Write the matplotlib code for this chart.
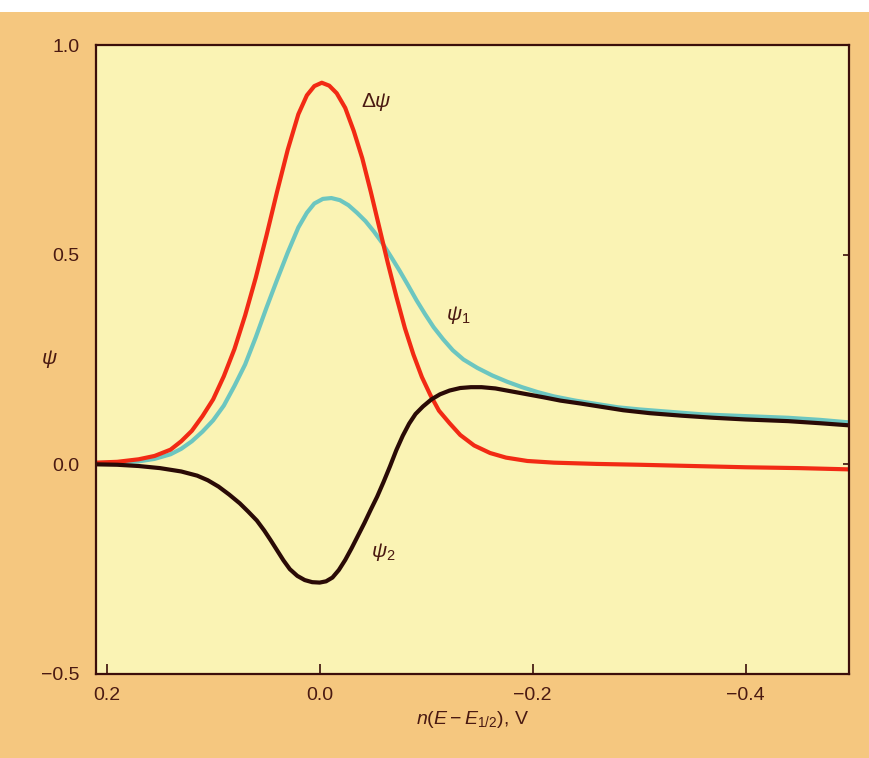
import numpy as np
import matplotlib.pyplot as plt
from matplotlib.patches import Rectangle

plt.rcParams['font.family'] = ['Liberation Sans', 'DejaVu Sans']
plt.rcParams['mathtext.fontset'] = 'custom'
plt.rcParams['mathtext.rm'] = 'Liberation Sans'
plt.rcParams['mathtext.it'] = 'Liberation Sans:italic'

# values
x_delta = [0.21, 0.19, 0.17, 0.155, 0.14, 0.13, 0.12, 0.11, 0.10, 0.09, 0.08, 0.07, 0.06,
           0.05, 0.04, 0.03, 0.02, 0.012, 0.005, -0.002, -0.009, -0.016, -0.024, -0.032,
           -0.040, -0.048, -0.056, -0.064, -0.072, -0.080, -0.088, -0.096, -0.104, -0.112,
           -0.122, -0.132, -0.145, -0.160, -0.175, -0.195, -0.22, -0.26, -0.30, -0.35,
           -0.40, -0.45, -0.497]
delta_psi = [0.004, 0.006, 0.012, 0.020, 0.035, 0.055, 0.080, 0.115, 0.155, 0.210, 0.275,
             0.355, 0.445, 0.545, 0.650, 0.750, 0.835, 0.880, 0.902, 0.910, 0.903, 0.885,
             0.850, 0.795, 0.730, 0.650, 0.565, 0.480, 0.400, 0.325, 0.262, 0.208, 0.165,
             0.128, 0.098, 0.070, 0.045, 0.027, 0.016, 0.008, 0.004, 0.001, -0.001,
             -0.004, -0.007, -0.009, -0.012]

x_psi1 = [0.21, 0.19, 0.17, 0.155, 0.14, 0.13, 0.12, 0.11, 0.10, 0.09, 0.08, 0.07, 0.06,
          0.05, 0.04, 0.03, 0.02, 0.012, 0.005, -0.003, -0.011, -0.019, -0.027, -0.035,
          -0.043, -0.051, -0.059, -0.067, -0.075, -0.083, -0.091, -0.099, -0.107, -0.116,
          -0.125, -0.135, -0.148, -0.162, -0.176, -0.190, -0.205, -0.220, -0.240, -0.26,
          -0.28, -0.30, -0.33, -0.36, -0.40, -0.44, -0.47, -0.497]
psi1 = [0.003, 0.004, 0.007, 0.013, 0.024, 0.037, 0.055, 0.078, 0.105, 0.140, 0.187,
        0.238, 0.303, 0.373, 0.440, 0.505, 0.565, 0.600, 0.622, 0.633, 0.635, 0.630,
        0.618, 0.600, 0.580, 0.555, 0.527, 0.495, 0.462, 0.427, 0.391, 0.358, 0.327,
        0.298, 0.272, 0.250, 0.230, 0.212, 0.197, 0.184, 0.172, 0.162, 0.152, 0.144,
        0.136, 0.131, 0.125, 0.119, 0.115, 0.111, 0.106, 0.100]

x_psi2 = [0.21, 0.19, 0.17, 0.15, 0.13, 0.115, 0.105, 0.095, 0.085, 0.075, 0.067, 0.059,
          0.052, 0.046, 0.040, 0.034, 0.028, 0.021, 0.014, 0.007, 0.0, -0.006, -0.012,
          -0.018, -0.024, -0.030, -0.036, -0.042, -0.048, -0.054, -0.060, -0.066, -0.072,
          -0.078, -0.084, -0.090, -0.097, -0.105, -0.113, -0.122, -0.132, -0.142, -0.152,
          -0.165, -0.180, -0.195, -0.210, -0.226, -0.245, -0.265, -0.285, -0.31, -0.34,
          -0.37, -0.40, -0.44, -0.47, -0.497]
psi2 = [0.0, -0.001, -0.004, -0.009, -0.017, -0.027, -0.038, -0.053, -0.072, -0.093,
        -0.113, -0.134, -0.158, -0.181, -0.205, -0.229, -0.250, -0.266, -0.276, -0.281,
        -0.282, -0.279, -0.270, -0.252, -0.228, -0.200, -0.170, -0.140, -0.108, -0.077,
        -0.042, -0.005, 0.034, 0.068, 0.097, 0.120, 0.138, 0.155, 0.167, 0.176, 0.182,
        0.184, 0.184, 0.181, 0.174, 0.167, 0.160, 0.152, 0.145, 0.137, 0.129, 0.122,
        0.116, 0.111, 0.107, 0.103, 0.098, 0.093]

xticks = [0.2, 0.0, -0.2, -0.4]
yticks = [-0.5, 0.0, 0.5, 1.0]

txt = '#4a1a12'
fig = plt.figure(figsize=(8.7, 7.58), dpi=100, facecolor='white')
fig.patches.append(Rectangle((0, 0), 1, 1 - 12 / 758, transform=fig.transFigure,
                             facecolor='#f5c77f', edgecolor='none', zorder=-1))
ax = fig.add_axes([96 / 870, 1 - 674 / 758, (849 - 96) / 870, (674 - 45) / 758])
ax.set_facecolor('#faf3b4')

ax.plot(x_psi1, psi1, color='#6cc6c0', lw=3, solid_joinstyle='round')
ax.plot(x_delta, delta_psi, color='#f22a14', lw=3, solid_joinstyle='round')
ax.plot(x_psi2, psi2, color='#2a0a06', lw=3, solid_joinstyle='round')

ax.set_xlim(0.21, -0.497)
ax.set_ylim(-0.5, 1.0)
ax.set_xticks(xticks)
ax.set_xticklabels(['0.2', '0.0', '\u22120.2', '\u22120.4'])
ax.set_yticks(yticks)
ax.set_yticklabels(['\u22120.5', '0.0', '0.5', '1.0'])
ax.tick_params(axis='x', direction='in', length=7, width=1.2, color='#3b0e0a',
               labelsize=14, labelcolor=txt, pad=9)
ax.tick_params(axis='y', direction='in', length=4, width=1.2, color='#3b0e0a',
               left=False, right=True, labelleft=True, labelsize=14, labelcolor=txt, pad=12)
for s in ax.spines.values():
    s.set_color('#3b0e0a')
    s.set_linewidth(1.6)

ax.set_xlabel(r'$n(E - E_{1/2})$, V', fontsize=14, color=txt, labelpad=4)
ax.set_ylabel(r'$\psi$', fontsize=15, color=txt, rotation=0, ha='center', va='center')
ax.yaxis.set_label_coords(-0.062, 0.5)

ax.text(-0.053, 0.864, r'$\Delta\psi$', fontsize=15, color=txt, ha='center', va='center')
ax.text(-0.130, 0.356, r'$\psi_1$', fontsize=15, color=txt, ha='center', va='center')
ax.text(-0.060, -0.21, r'$\psi_2$', fontsize=15, color=txt, ha='center', va='center')

plt.savefig('out.png', dpi=100, facecolor=fig.get_facecolor())
